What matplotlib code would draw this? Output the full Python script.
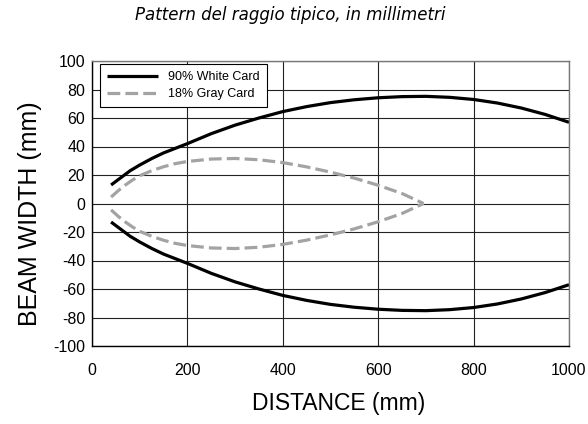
import numpy as np
import matplotlib
matplotlib.use("Agg")
import matplotlib.pyplot as plt
from matplotlib import font_manager

plt.rcParams["font.family"] = ["Liberation Sans", "DejaVu Sans"]
plt.rcParams["axes.unicode_minus"] = False

# narrow face for ticks and x label if it is installed
names = {f.name for f in font_manager.fontManager.ttflist}
narrow = "Liberation Sans Narrow" if "Liberation Sans Narrow" in names else None

# ---- data (upper half, curves are symmetric) ----
white_x = [40, 60, 80, 100, 125, 150, 200, 250, 300, 350, 400, 450, 500,
           550, 600, 650, 700, 750, 800, 850, 900, 950, 1000]
white_y = [13, 18, 23, 27, 31.5, 35.5, 42, 49, 55, 60, 64.5, 68, 70.8,
           72.8, 74.2, 75, 75.2, 74.5, 73, 70.5, 67, 62.5, 57]

gray_x = [40, 55, 70, 85, 100, 125, 150, 175, 200, 250, 300, 350, 400,
          450, 500, 550, 600, 650, 695]
gray_y = [4.5, 9, 13, 16.5, 19.5, 23, 25.8, 28, 29.5, 31.2, 31.6, 30.7, 28.7,
          25.7, 22, 17.8, 12.8, 7, 0]

x_ticks = [0, 200, 400, 600, 800, 1000]
y_ticks = list(range(-100, 101, 20))

# ---- plot ----
fig = plt.figure(figsize=(5.88, 4.24), dpi=100)
ax = fig.add_axes([92 / 588, 1 - 346 / 424, 477 / 588, 285 / 424])

gray = "#a3a3a3"
wx = np.array(white_x)
wy = np.array(white_y)
gx = np.array(gray_x)
gy = np.array(gray_y)

ax.plot(wx, wy, color="black", lw=2.3, solid_capstyle="butt", label="90% White Card")
ax.plot(gx, gy, color=gray, lw=2.3, dashes=(4, 1.6), label="18% Gray Card")
ax.plot(wx, -wy, color="black", lw=2.3, solid_capstyle="butt")
ax.plot(gx, -gy, color=gray, lw=2.3, dashes=(4, 1.6))

ax.set_xlim(0, 1000)
ax.set_ylim(-100, 100)
ax.set_xticks(x_ticks)
ax.set_yticks(y_ticks)
tick_size = 13 if narrow else 11.5
ax.tick_params(axis="x", length=0, labelsize=tick_size, pad=12)
ax.tick_params(axis="y", length=0, labelsize=tick_size, pad=5)
if narrow:
    for lab in ax.get_xticklabels() + ax.get_yticklabels():
        lab.set_family(narrow)
ax.grid(True, color="#222222", lw=0.8)
ax.set_axisbelow(True)
for side in ["top", "right"]:
    ax.spines[side].set_color("#777777")
for side in ["left", "bottom"]:
    ax.spines[side].set_color("black")
for s in ax.spines.values():
    s.set_linewidth(1.0)

if narrow:
    ax.set_xlabel("DISTANCE (mm)", fontsize=19.5, labelpad=8, x=0.518, family=narrow)
else:
    ax.set_xlabel("DISTANCE (mm)", fontsize=16.5, labelpad=10, x=0.518)
ax.set_ylabel("BEAM WIDTH (mm)", fontsize=18, labelpad=8, y=0.465)
fig.text(0.493, 1 - 15 / 424, "Pattern del raggio tipico, in millimetri",
         ha="center", va="center", fontsize=12, style="italic",
         family="DejaVu Sans")

leg = ax.legend(loc="upper left", bbox_to_anchor=(8 / 477, (346 - 64) / 285),
                fontsize=9, handlelength=4.1, handletextpad=0.8, frameon=True,
                fancybox=False, borderaxespad=0, borderpad=0.55,
                labelspacing=0.45)
leg.get_frame().set_edgecolor("black")
leg.get_frame().set_linewidth(0.8)
leg.get_frame().set_alpha(1)

fig.savefig("out.png", dpi=100)
